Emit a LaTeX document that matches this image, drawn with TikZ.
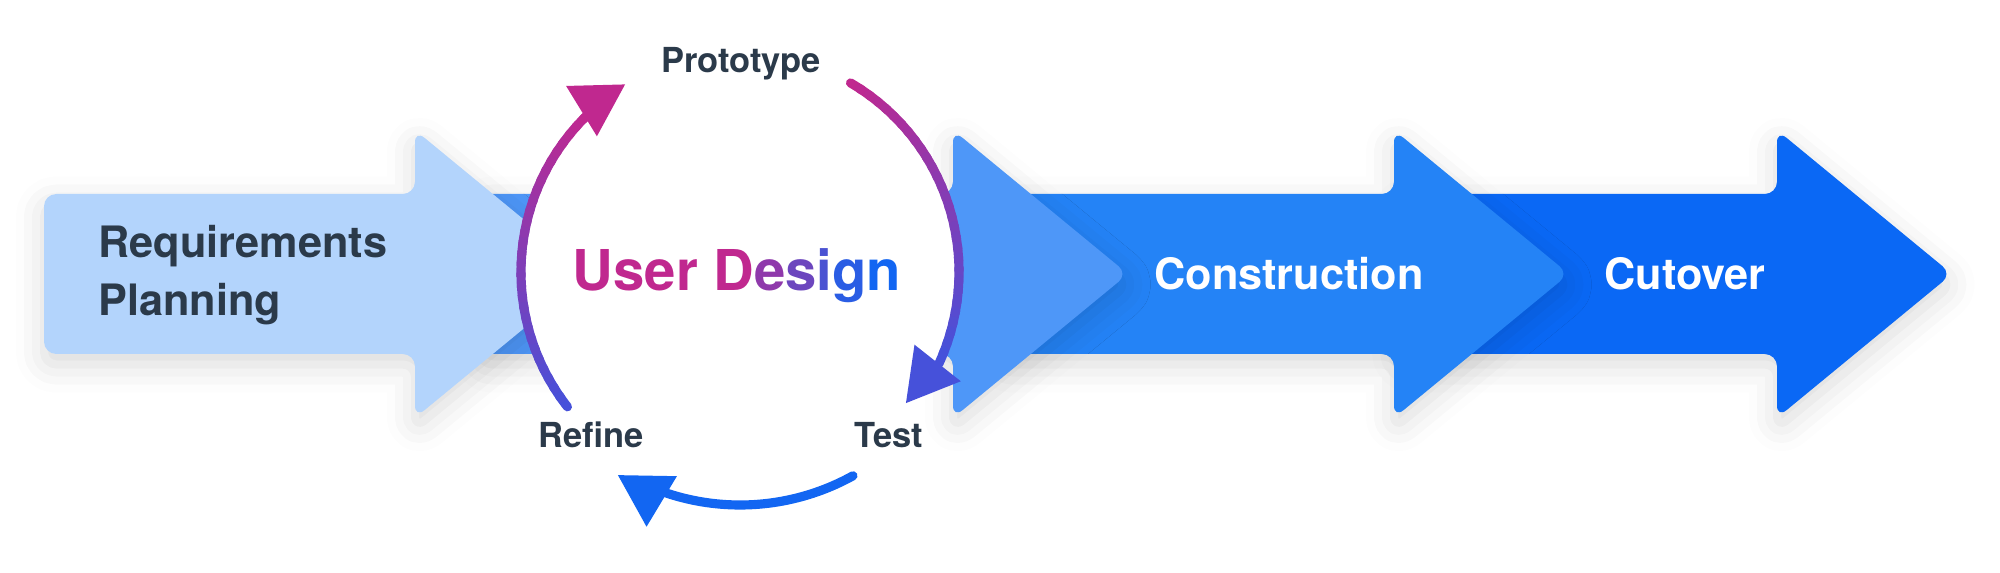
\documentclass[tikz,border=0pt]{standalone}
\usepackage{fontspec}
\setmainfont{TeX Gyre Heros}
\usetikzlibrary{shadows.blur}
\definecolor{ink}{HTML}{2B3A4A}
\definecolor{req}{HTML}{B3D4FC}
\definecolor{usr}{HTML}{4E97F8}
\definecolor{cons}{HTML}{2483F6}
\definecolor{cut}{HTML}{0A68F5}
\definecolor{mag}{HTML}{C0288F}
\definecolor{vio}{HTML}{4651DA}
\definecolor{blu}{HTML}{1266F2}
\tikzset{
  phase/.style={fill=#1,rounded corners=3.5pt,
    blur shadow={shadow xshift=0pt,shadow yshift=-3pt,shadow blur radius=8pt,shadow opacity=15}},
  cycleline/.style={line width=2.6pt,line cap=round},
  steplabel/.style={font=\bfseries\fontsize{9.8}{12}\selectfont,text=ink},
  phasetext/.style={font=\bfseries\fontsize{12.3}{16.5}\selectfont,text=white}
}
% body start, head base, colour
\newcommand{\phasearrow}[3]{\path[phase=#3] (#1,219) -- (#2,219) -- (#2,155) -- ({#2+175},299) -- (#2,443) -- (#2,379) -- (#1,379) -- cycle;}
% start angle, end angle, radius, from, to, steps
\newcommand{\gradarc}[6]{\foreach \k in {1,...,#6}{
  \pgfmathsetmacro\sa{#1+(#2-#1)*(\k-1)/#6}
  \pgfmathsetmacro\ea{#1+(#2-#1)*(\k+0.3)/#6}
  \pgfmathsetmacro\mix{100*(\k-1)/(#6-1)}
  \draw[cycleline,draw=#5!\mix!#4] (cyc) ++(\sa:#3) arc[start angle=\sa,end angle=\ea,radius=#3];}}
% tip angle, tip radius, colour
\newcommand{\cyctip}[3]{\fill[#3] (cyc) ++(#1:#2) -- ++({#1+60}:59) -- ++({#1+180}:59) -- cycle;}
\begin{document}
\begin{tikzpicture}[x=0.01cm,y=0.01cm]
\useasboundingbox (0,0) rectangle (2000,573);
\phasearrow{1400}{1777}{cut}
\phasearrow{1000}{1394}{cons}
\phasearrow{480}{953}{usr}
\phasearrow{44}{415}{req}
\coordinate (cyc) at (740,301);
\fill[white] (cyc) circle (219);
\gradarc{218}{133}{219}{vio}{mag}{30}
\cyctip{121.5}{220}{mag}
\gradarc{59.7}{-24}{219}{mag}{vio}{30}
\cyctip{-38.3}{211.5}{vio}
\draw[cycleline,blu] (cyc) ++(-61:233) arc[start angle=-61,end angle=-110,radius=233];
\cyctip{-121}{237}{blu}
\node[phasetext,text=ink,anchor=west,align=left] (planning) at (86,298) {Requirements\\Planning};
\node[font=\bfseries\fontsize{16}{18}\selectfont] (design) at (737,297)
  {\textcolor{mag}{User D}\textcolor{mag!72!blu}{e}\textcolor{mag!52!blu}{s}\textcolor{mag!32!blu}{i}\textcolor{mag!14!blu}{g}\textcolor{blu}{n}};
\node[steplabel] (proto) at (741,509) {Prototype};
\node[steplabel] (refine) at (591,138) {Refine};
\node[steplabel] (test) at (889,138) {Test};
\node[phasetext] (construction) at (1289,299) {Construction};
\node[phasetext] (cutover) at (1685,299) {Cutover};
\end{tikzpicture}
\end{document}
